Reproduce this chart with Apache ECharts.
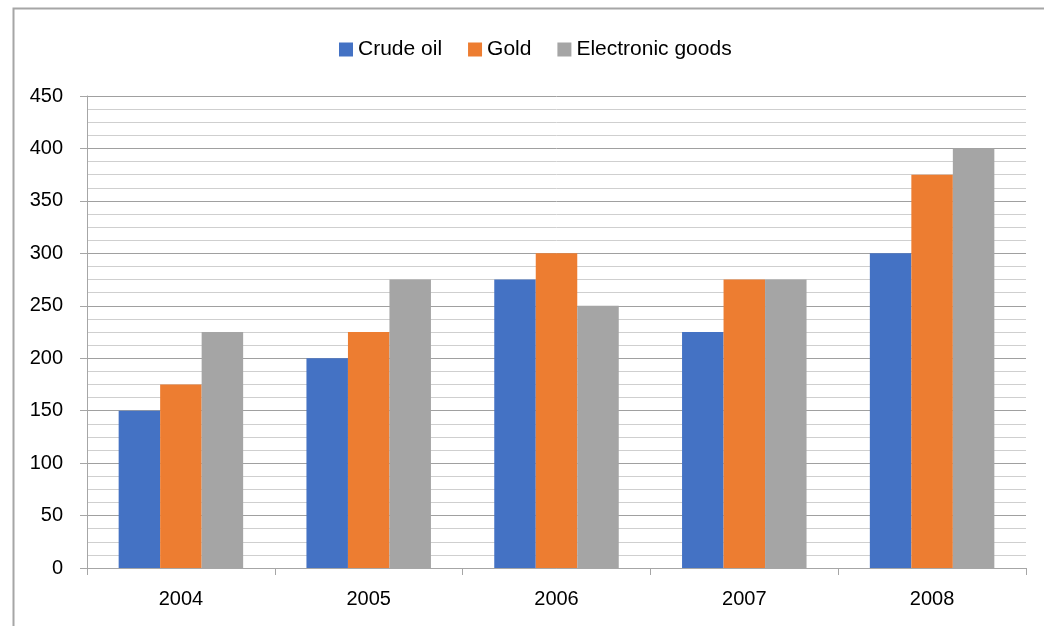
<!DOCTYPE html>
<html lang="en">
<head>
    <meta charset="UTF-8">
    <title>Bar chart</title>
    <style>
        html, body { margin: 0; padding: 0; background: #fff; }
        #root { width: 1044px; height: 626px; }
    </style>
</head>
<body>
    <div id="root"></div>
    <script src="https://cdn.jsdelivr.net/npm/echarts@6/dist/echarts.min.js"></script>
    <script>
        var years = ["2004", "2005", "2006", "2007", "2008"];
        var crudeOil = [150, 200, 275, 225, 300];
        var gold = [175, 225, 300, 275, 375];
        var electronicGoods = [225, 275, 250, 275, 400];
        var yTicks = { min: 0, max: 450, interval: 50 };

        var font = '"Liberation Sans", Arial, sans-serif';
        var barWidth = 41.5;

        var option = {
            animation: false,
            color: ["#4472C4", "#ED7D31", "#A5A5A5"],
            textStyle: { fontFamily: font },
            graphic: [
                {
                    // outer chart frame, runs off the right and bottom edges
                    type: "rect",
                    left: 11,
                    top: 6,
                    shape: { width: 1200, height: 800 },
                    style: { fill: "none", stroke: "#a6a6a6", lineWidth: 2 },
                    silent: true
                }
            ],
            legend: {
                top: 34,
                left: 334,
                itemWidth: 14,
                itemHeight: 14,
                itemGap: 26,
                icon: "rect",
                textStyle: { fontSize: 21, color: "#000", fontFamily: font }
            },
            grid: {
                left: 87,
                right: 18,
                top: 96,
                bottom: 58,
                containLabel: false
            },
            xAxis: {
                type: "category",
                data: years,
                axisLine: { lineStyle: { color: "#a6a6a6", width: 1 } },
                axisTick: { show: true, length: 7, lineStyle: { color: "#a6a6a6" } },
                axisLabel: { fontSize: 20, color: "#000", margin: 21, fontFamily: font },
                splitLine: { show: false }
            },
            yAxis: {
                type: "value",
                min: yTicks.min,
                max: yTicks.max,
                interval: yTicks.interval,
                axisLine: { show: true, lineStyle: { color: "#a6a6a6", width: 1 } },
                axisTick: { show: true, length: 7, lineStyle: { color: "#a6a6a6" } },
                axisLabel: { fontSize: 20, color: "#000", margin: 24, fontFamily: font },
                splitLine: { show: true, lineStyle: { color: "#a0a0a0", width: 1 } },
                minorTick: { show: false, splitNumber: 4 },
                minorSplitLine: { show: true, lineStyle: { color: "#cfcfcf", width: 1 } }
            },
            series: [
                { name: "Crude oil", type: "bar", data: crudeOil, barWidth: barWidth, barGap: "0%" },
                { name: "Gold", type: "bar", data: gold, barWidth: barWidth, barGap: "0%" },
                { name: "Electronic goods", type: "bar", data: electronicGoods, barWidth: barWidth, barGap: "0%" }
            ]
        };

        var instance = echarts.init(document.getElementById("root"));
        instance.setOption(option);
    </script>
</body>
</html>
